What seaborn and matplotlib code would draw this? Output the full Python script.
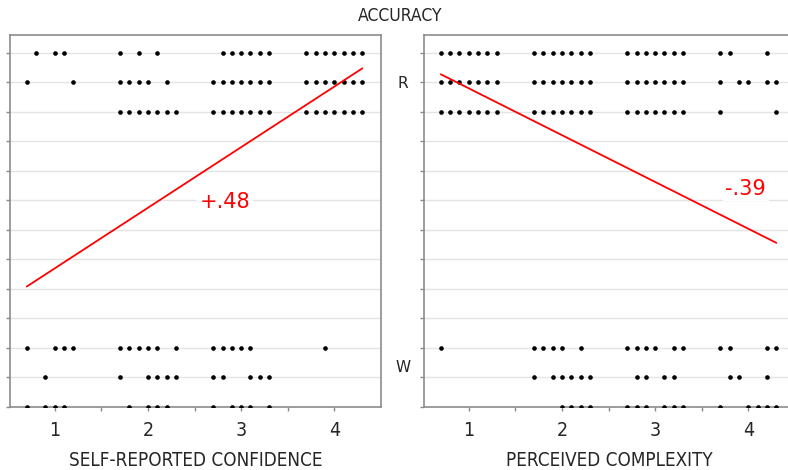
import matplotlib

matplotlib.use("Agg")

import matplotlib.pyplot as plt
import pandas as pd
import seaborn as sns
from matplotlib import font_manager

# dot positions per row (row 12..10 = right answers, 2..0 = wrong answers)
CONF_ROW_12 = [0.8, 1.0, 1.1, 1.7, 1.9, 2.1, 2.8, 2.9, 3.0, 3.1, 3.2, 3.3,
               3.7, 3.8, 3.9, 4.0, 4.1, 4.2, 4.3]
CONF_ROW_11 = [0.7, 1.2, 1.7, 1.8, 1.9, 2.0, 2.2, 2.7, 2.8, 2.9, 3.0, 3.1, 3.2, 3.3,
               3.7, 3.8, 3.9, 4.0, 4.1, 4.2, 4.3]
CONF_ROW_10 = [1.7, 1.8, 1.9, 2.0, 2.1, 2.2, 2.3, 2.7, 2.8, 2.9, 3.0, 3.1, 3.2, 3.3,
               3.7, 3.8, 3.9, 4.0, 4.1, 4.2, 4.3]
CONF_ROW_2 = [0.7, 1.0, 1.1, 1.2, 1.7, 1.8, 1.9, 2.0, 2.1, 2.3, 2.7, 2.8, 2.9, 3.0,
              3.1, 3.9]
CONF_ROW_1 = [0.9, 1.7, 2.0, 2.1, 2.2, 2.3, 2.7, 2.8, 3.1, 3.2, 3.3]
CONF_ROW_0 = [0.7, 0.9, 1.0, 1.1, 1.8, 2.0, 2.1, 2.2, 2.7, 2.9, 3.0, 3.1, 3.3]

COMP_ROW_12 = [0.7, 0.8, 0.9, 1.0, 1.1, 1.2, 1.3, 1.7, 1.8, 1.9, 2.0, 2.1, 2.2, 2.3,
               2.7, 2.8, 2.9, 3.0, 3.1, 3.2, 3.3, 3.7, 3.8, 4.2]
COMP_ROW_11 = [0.7, 0.8, 0.9, 1.0, 1.1, 1.2, 1.3, 1.7, 1.8, 1.9, 2.0, 2.1, 2.2, 2.3,
               2.7, 2.8, 2.9, 3.0, 3.1, 3.2, 3.3, 3.7, 3.9, 4.0, 4.2, 4.3]
COMP_ROW_10 = [0.7, 0.8, 0.9, 1.0, 1.1, 1.2, 1.3, 1.7, 1.8, 1.9, 2.0, 2.1, 2.2, 2.3,
               2.7, 2.8, 2.9, 3.0, 3.1, 3.2, 3.3, 3.7, 4.3]
COMP_ROW_2 = [0.7, 1.7, 1.8, 1.9, 2.0, 2.2, 2.7, 2.8, 2.9, 3.0, 3.2, 3.3, 3.7, 3.8,
              4.2, 4.3]
COMP_ROW_1 = [1.7, 1.9, 2.0, 2.1, 2.2, 2.3, 2.8, 2.9, 3.1, 3.2, 3.8, 3.9, 4.2]
COMP_ROW_0 = [2.0, 2.1, 2.2, 2.3, 2.7, 2.8, 2.9, 3.1, 3.2, 3.3, 3.7, 4.0, 4.1, 4.2, 4.3]

# fitted lines (endpoints) and correlation labels
CONF_FIT_X = [0.7, 4.3]
CONF_FIT_Y = [4.08, 11.47]
COMP_FIT_X = [0.7, 4.3]
COMP_FIT_Y = [11.27, 5.56]
CONF_R = "+.48"
COMP_R = "-.39"

X_TICKS = [1, 1.5, 2, 2.5, 3, 3.5, 4]
X_TICK_LABELS = ["1", "", "2", "", "3", "", "4"]
Y_TICKS = list(range(13))

sns.set_style("white")

# the labels in the original use a narrow face; use a condensed one if installed
fonts = font_manager.fontManager.ttflist
names = {f.name for f in fonts}
condensed = [f for f in fonts if f.name == "DejaVu Sans"
             and str(f.stretch) in ("condensed", "semi-condensed", "75", "87")]
if "Liberation Sans Narrow" in names:
    label_font = dict(family=["Liberation Sans Narrow", "DejaVu Sans"])
elif condensed:
    label_font = dict(family=["DejaVu Sans"], stretch="condensed")
else:
    label_font = dict(family=["Liberation Sans", "DejaVu Sans"])
plt.rcParams["font.family"] = ["DejaVu Sans"]


def rows_frame(rows):
    recs = []
    for y, xs in rows.items():
        for x in xs:
            recs.append({"x": x, "y": y})
    return pd.DataFrame(recs)


conf_df = rows_frame({12: CONF_ROW_12, 11: CONF_ROW_11, 10: CONF_ROW_10,
                      2: CONF_ROW_2, 1: CONF_ROW_1, 0: CONF_ROW_0})
comp_df = rows_frame({12: COMP_ROW_12, 11: COMP_ROW_11, 10: COMP_ROW_10,
                      2: COMP_ROW_2, 1: COMP_ROW_1, 0: COMP_ROW_0})

W, H = 788, 470
fig = plt.figure(figsize=(W / 100, H / 100), dpi=100)
ax1 = fig.add_axes([10 / W, 63 / H, 371 / W, 372 / H])
ax2 = fig.add_axes([424 / W, 63 / H, 371 / W, 372 / H])

panels = [
    (ax1, conf_df, CONF_FIT_X, CONF_FIT_Y, CONF_R, (2.83, 6.95), "SELF-REPORTED CONFIDENCE"),
    (ax2, comp_df, COMP_FIT_X, COMP_FIT_Y, COMP_R, (3.97, 7.4), "PERCEIVED COMPLEXITY"),
]

for ax, df, fx, fy, rtxt, rpos, xlabel in panels:
    ax.set_xlim(0.52, 4.5)
    ax.set_ylim(0, 12.6)
    ax.set_yticks(Y_TICKS)
    ax.set_yticklabels([])
    ax.set_xticks(X_TICKS)
    ax.set_xticklabels(X_TICK_LABELS, fontsize=14, **label_font)
    ax.tick_params(axis="both", direction="out", length=3, width=1, color="#888888",
                   left=True, bottom=True, pad=7)
    ax.grid(axis="y", color="#e4e4e4", linewidth=1)
    ax.set_axisbelow(True)
    for sp in ax.spines.values():
        sp.set_color("#8c8c8c")
        sp.set_linewidth(1.2)
    sns.scatterplot(data=df, x="x", y="y", ax=ax, color="black", s=11,
                    linewidth=0, legend=False, zorder=3, clip_on=True)
    sns.lineplot(x=fx, y=fy, ax=ax, color="red", linewidth=1.3, zorder=4)
    ax.text(rpos[0], rpos[1], rtxt, color="red", fontsize=15, ha="center", va="center",
            zorder=5, bbox=dict(facecolor="white", edgecolor="none", pad=2))
    ax.set_xlabel(xlabel, fontsize=13.5, labelpad=8, **label_font)
    ax.set_ylabel("")

fig.text(400 / W, 1 - 16 / H, "ACCURACY", ha="center", va="center", fontsize=12.5,
         **label_font)
fig.text(403 / W, 1 - 83 / H, "R", ha="center", va="center", fontsize=11)
fig.text(403 / W, 1 - 367 / H, "W", ha="center", va="center", fontsize=11)

fig.savefig("out.png", dpi=100)
plt.close(fig)
